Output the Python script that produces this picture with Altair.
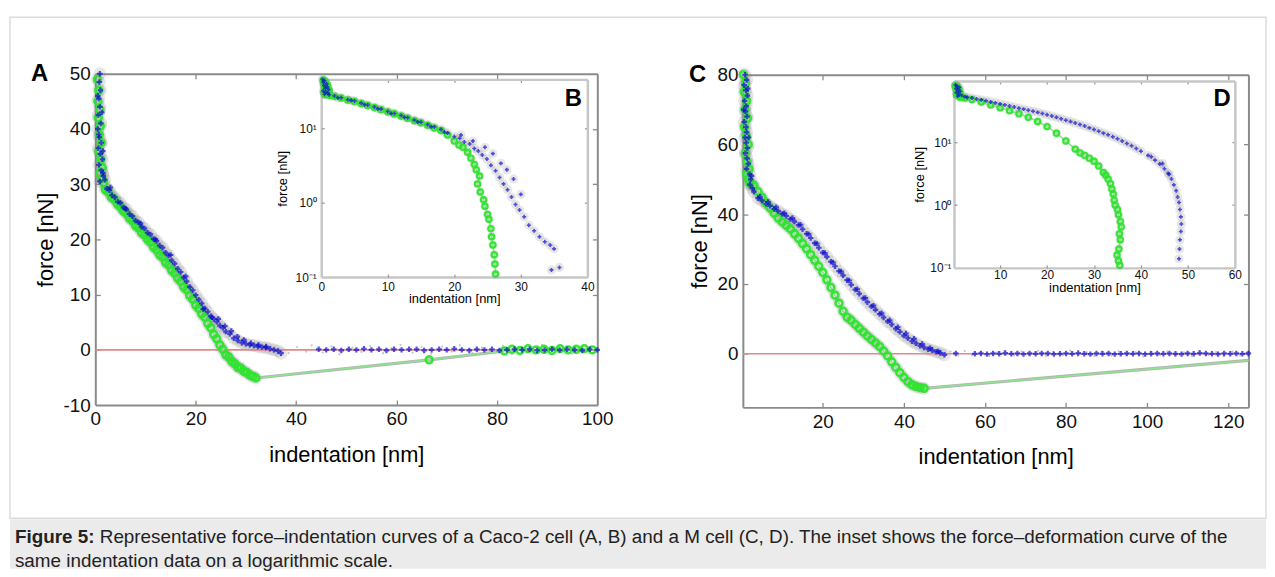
import altair as alt
import pandas as pd

FONT = "Liberation Sans"
W, H = 1266, 505
BLUE = "#0a0ad0"
GREEN = "#2ee52e"
GLINE = "#8fe28f"
HALO = "#858585"
RED = "#e38787"
FRAME = "#8a8a8a"
IFRAME = "#c6c6c6"

# ---------------- Panel A (Caco-2, linear) ----------------
A_BLUE_X = [0.9, 0.8, 1.0, 0.7, 0.9, 0.6, 1.1, 0.5, 0.8, 1.2, 0.6, 1.0, 1.4, 0.7, 1.2, 1.6, 0.9, 1.5, 1.9,
            2.3, 2.8, 3.3, 3.9, 4.5, 5.0, 5.6, 6.2, 6.8, 7.4, 8.0, 8.6, 9.2, 9.8, 10.4, 11.0, 11.6, 12.2, 12.8, 13.4,
            14.0, 14.6, 15.2, 15.8, 16.4, 17.0, 17.6, 18.2, 18.8, 19.4, 20.0, 20.6, 21.2, 21.8, 22.4, 23.0, 23.6, 24.2,
            24.8, 25.4, 26.0, 26.8, 27.6, 28.4, 29.2, 30.0, 30.8, 31.6, 32.4, 33.2, 34.0, 34.8, 35.6, 36.4, 37.0]
A_BLUE_Y = [50, 48.5, 47, 45.5, 44, 42.5, 41, 40, 38.5, 37.5, 36.5, 35.5, 34.5, 33.5, 32.5, 31.5, 30.5, 32, 30.8,
            29.2, 28.9, 28.0, 27.6, 26.8, 26.6, 25.8, 25.4, 24.6, 24.2, 23.4, 23.1, 22.3, 22.0, 21.2, 20.9, 20.1, 19.7,
            18.9, 18.5, 17.6, 17.1, 16.2, 15.6, 14.7, 14.1, 13.1, 12.4, 11.4, 10.8, 9.9, 9.1, 8.4, 7.5, 6.9, 6.1, 5.6,
            5.1, 4.4, 4.0, 3.3, 2.9, 2.1, 1.7, 1.3, 1.1, 0.9, 0.8, 0.6, 0.5, 0.4, 0.2, 0.0, -0.2, -0.6]
A_BLUE2_X = [0.5, 1.3, 0.7, 1.5, 3.0, 6.0, 9.0, 12.0, 15.0, 18.0, 21.5, 23.2, 24.5, 25.8, 27.1, 28.3, 29.6,
             31.0, 32.5, 34.0]
A_BLUE2_Y = [46.0, 43.0, 39.0, 36.0, 29.4, 25.6, 22.9, 20.0, 17.2, 13.3, 7.4, 5.9, 5.6, 4.3, 3.4, 2.4, 1.8,
             1.2, 0.9, 0.6]
A_BASE_X = [44.5, 46.0, 47.5, 49.0, 50.5, 52.0, 53.5, 55.0, 56.5, 58.0, 59.5, 61.0, 62.5, 64.0, 65.5, 67.0, 68.5,
            70.0, 71.5, 73.0, 74.5, 76.0, 77.5, 79.0, 80.5, 82.0, 83.5, 85.0, 86.5, 88.0, 89.5, 91.0, 92.5, 94.0,
            95.5, 97.0, 98.5, 100.0]
A_BASE_Y = [0.1, 0.0, 0.1, -0.1, 0.1, 0.0, 0.2, 0.0, 0.1, -0.1, 0.1, 0.0, 0.1, 0.1, -0.1, 0.0, 0.1, 0.0, 0.2, 0.0,
            -0.1, 0.1, 0.0, 0.1, -0.1, 0.0, 0.1, 0.0, 0.1, -0.1, 0.0, 0.1, 0.0, 0.1, 0.0, -0.1, 0.1, 0.0]
A_GREEN_X = [0.4, 0.7, 0.5, 0.9, 0.6, 1.0, 0.8, 1.2, 0.7, 1.1, 1.4, 0.9, 1.3, 1.7,
             2.0, 2.6, 3.2, 3.8, 4.4, 5.0, 5.6, 6.2, 6.8, 7.4, 8.0, 8.6, 9.2, 9.8, 10.4, 11.0, 11.6, 12.2, 12.8,
             13.4, 14.0, 14.6, 15.2, 15.8, 16.4, 17.0, 17.6, 18.2, 18.8, 19.4, 20.0, 20.6, 21.2, 21.8, 22.4, 23.0,
             23.6, 24.2, 24.8, 25.4, 26.0, 26.6, 27.2, 27.8, 28.4, 29.0, 29.6, 30.2, 30.8, 31.4, 32.0,
             66.5, 81.5, 83.0, 84.6, 86.2, 87.8, 89.4, 91.0, 92.6, 94.2, 95.8, 97.4, 99.0]
A_GREEN_Y = [49, 47, 45, 43.5, 42, 40.5, 39, 37.5, 36, 34.5, 33, 32, 31, 30.2,
             29.0, 28.6, 27.6, 27.3, 26.4, 25.9, 25.1, 24.7, 23.8, 23.4, 22.5, 22.1, 21.2, 20.8, 20.0, 19.5, 18.6,
             18.1, 17.2, 16.8, 15.8, 15.4, 14.4, 13.9, 13.0, 12.4, 11.4, 10.9, 9.8, 9.2, 8.1, 7.5, 6.5, 5.9, 4.8,
             4.0, 2.8, 2.0, 0.9, 0.1, -0.9, -1.3, -2.1, -2.5, -3.2, -3.3, -3.9, -4.1, -4.6, -4.8, -5.1,
             -1.8, -0.2, 0.1, -0.1, 0.2, 0.0, 0.1, -0.1, 0.2, 0.0, 0.1, 0.2, 0.0]
A_RET_X = [32.0, 66.5, 81.5]
A_RET_Y = [-5.1, -1.8, -0.2]
A_NOISE_X = [38.5, 40.2, 42.0, 43.1, 45.3, 47.0, 48.6, 51.2, 53.0, 54.7, 57.3, 59.0, 60.8, 63.2, 65.0, 66.9,
             69.1, 71.0, 72.6, 75.1, 77.0, 78.8, 81.2, 83.0, 84.9, 87.1, 89.0, 90.7, 93.1, 95.0, 96.8, 99.2]
A_NOISE_Y = [-0.6, 0.5, -0.3, 0.8, -0.5, 0.6, -0.8, 0.4, -0.4, 0.7, -0.6, 0.3, 0.9, -0.5, 0.5, -0.7,
             0.6, -0.3, 0.8, -0.6, 0.4, -0.5, 0.7, -0.8, 0.5, -0.4, 0.9, -0.6, 0.4, -0.7, 0.6, -0.5]

# ---------------- Panel B (inset, log) ----------------
B_BLUE_X = [0.2, 0.5, 0.3, 0.8, 0.4, 0.9, 0.6, 1.1, 0.3, 0.7, 1.0, 0.5, 1.2,
            2, 3, 4, 5, 6, 7, 8, 9, 10, 11, 12, 13, 14, 15, 16, 17, 18, 19, 20,
            20.8, 21.5, 22.3, 23, 23.6, 24.2, 24.9, 25.5, 26.2, 26.8, 27.4, 28, 28.6, 29.2, 29.8, 30.5, 31.2, 32,
            32.8, 33.6, 34.4, 35, 34.6, 35.8]
B_BLUE_Y = [46, 44, 42, 40, 38, 36.5, 35, 33.5, 32, 31, 30, 29, 28.5,
            27.5, 26, 24.5, 23.5, 22, 20.8, 19.5, 18.3, 17, 16, 15, 14, 13, 12.2, 11.3, 10.5, 9.7, 8.7, 7.8,
            7.4, 6.6, 6.2, 5.4, 5.0, 4.4, 3.9, 3.2, 2.7, 2.2, 1.8, 1.5, 1.2, 0.95, 0.8, 0.65, 0.5, 0.42,
            0.35, 0.3, 0.27, 0.24, 0.125, 0.135]
B_BLUE2_X = [2.5, 4.5, 6.5, 8.5, 10.5, 12.5, 14.5, 16.5, 18.5, 21.0, 22.8, 24.6, 25.8, 27.0, 27.9, 28.9, 30.0]
B_BLUE2_Y = [26.0, 24.0, 21.0, 18.5, 16.0, 14.2, 12.3, 10.6, 9.0, 8.2, 6.8, 5.6, 4.6, 3.4, 2.8, 2.1, 1.3]
B_GREEN_X = [0.3, 0.6, 0.4, 0.9, 0.5, 1.0, 0.7, 1.2, 0.4, 0.8, 1.1, 0.6, 1.3,
             2, 3, 4, 5, 6, 7, 8, 9, 10, 11, 12, 13, 14, 15, 16, 17,
             18, 19, 20, 20.7, 21.3, 22, 22.5, 23, 23.3, 23.8, 23.5, 23.9, 24.4, 24.6, 25, 25.2, 25.5, 25.6,
             25.8, 26, 26.1, 26.2]
B_GREEN_Y = [45, 43, 41, 39, 37, 35.5, 34, 32.5, 31, 30, 29, 28.5, 28,
             27.2, 25.8, 24.3, 23.2, 21.8, 20.5, 19.2, 18.0, 16.8, 15.8, 14.8, 13.8, 12.8, 12.0, 11.1, 10.2,
             9.4, 8.2, 6.8, 6.0, 5.6, 4.8, 4.0, 3.3, 2.8, 2.3, 1.8, 1.4, 1.1, 0.9, 0.7, 0.6, 0.45, 0.35,
             0.27, 0.2, 0.15, 0.11]

# ---------------- Panel C (M cell, linear) ----------------
C_BLUE_X = [0.8, 1.2, 0.6, 1.0, 1.4, 0.7, 1.1, 0.9, 1.3, 0.6, 1.0, 1.2, 0.8, 1.1, 1.4, 0.9, 1.3, 1.6, 1.2, 1.9,
            2.2, 2.0, 2.6, 3.0,
            4, 5, 6, 7, 8, 9, 10, 11, 12, 13, 14, 15, 16, 17, 18, 19, 20, 21, 22, 23, 24, 25, 26, 27, 28, 29,
            30, 31, 32, 33, 34, 35, 36, 37, 38, 39, 40, 41, 42, 43, 44, 45, 46, 47, 48, 49, 50]
C_BLUE_Y = [80, 78.5, 77, 75.5, 74, 72.5, 71, 69.5, 68, 66.5, 65, 63.5, 62, 60.5, 59, 57.5, 56, 54.5, 53, 51.5,
            50, 48.5, 47.5, 46.5,
            44.6, 43.9, 43.0, 42.4, 41.5, 40.9, 40.1, 39.5, 38.6, 37.9, 36.9, 35.7, 34.4, 33.2, 31.7, 30.4,
            29.0, 27.8, 26.4, 25.1, 23.7, 22.5, 21.1, 19.8, 18.4, 17.2, 15.9, 14.8, 13.6, 12.6, 11.4, 10.4,
            9.3, 8.4, 7.2, 6.3, 5.2, 4.5, 3.6, 3.0, 2.3, 1.8, 1.3, 1.0, 0.6, 0.2, -0.3]
C_BLUE2_X = [1.5, 0.5, 1.7, 2.4, 4.5, 6.5, 8.5, 10.5, 12.5, 14.5, 16.5, 18.5, 20.5, 22.5, 24.5, 26.5, 28.5,
             30.5, 32.5, 34.5, 36.5, 38.5, 40.5, 42.5, 44.5, 46.5, 48.5]
C_BLUE2_Y = [76.0, 70.0, 62.0, 51.0, 45.0, 43.5, 42.0, 40.3, 38.9, 37.0, 34.3, 31.6, 28.9, 26.2, 23.6, 21.0,
             18.5, 16.0, 13.8, 11.6, 9.6, 7.6, 5.8, 4.3, 2.8, 1.6, 0.7]
C_BASE_X = [52.8, 57.5, 59.0, 60.5, 62.0, 63.5, 65.0, 66.5, 68.0, 69.5, 71.0, 72.5, 74.0, 75.5, 77.0, 78.5, 80.0,
            81.5, 83.0, 84.5, 86.0, 87.5, 89.0, 90.5, 92.0, 93.5, 95.0, 96.5, 98.0, 99.5, 101.0, 102.5, 104.0,
            105.5, 107.0, 108.5, 110.0, 111.5, 113.0, 114.5, 116.0, 117.5, 119.0, 120.5, 122.0, 123.5, 125.0]
C_BASE_Y = [0.1, 0.0, 0.1, -0.1, 0.1, 0.0, 0.2, 0.0, 0.1, -0.1, 0.1, 0.0, 0.1, 0.1, -0.1, 0.0, 0.1, 0.0, 0.2,
            0.0, -0.1, 0.1, 0.0, 0.1, -0.1, 0.0, 0.1, 0.0, 0.1, -0.1, 0.0, 0.1, 0.0, 0.1, 0.0, -0.1, 0.1, 0.0,
            0.2, 0.1, 0.0, -0.1, 0.1, 0.0, 0.1, 0.0, 0.1]
C_GREEN_X = [0.4, 0.9, 0.6, 1.2, 0.8, 1.4, 0.7, 1.1, 1.6, 0.9, 1.3, 1.8, 1.2, 1.6, 2.0,
             3, 4, 5, 6, 7, 8, 9, 10, 11, 12, 13, 14, 15, 16, 17, 18, 19, 20, 21, 22, 23, 24, 25, 26, 27, 28,
             29, 30, 31, 32, 33, 34, 35, 36, 37, 38, 39, 40, 41, 42, 43, 44, 45]
C_GREEN_Y = [80, 77.5, 75, 72.5, 70, 67.5, 65, 62.5, 60, 57.5, 55, 53, 51.5, 50, 48.8,
             48.3, 46.5, 44.9, 43.2, 41.8, 40.3, 38.9, 37.8, 36.8, 35.8, 34.4, 33.1, 31.6, 30.1, 28.4, 26.8,
             25.1, 23.3, 21.2, 19.0, 16.8, 14.5, 12.2, 10.5, 9.6, 8.4, 7.3, 6.2, 5.1, 4.1, 3.1, 2.1, 0.8, -0.6,
             -2.3, -3.9, -5.4, -6.8, -8.0, -8.9, -9.4, -9.7, -9.9]
C_RET_X = [45.0, 125.0]
C_RET_Y = [-9.9, -1.9]
C_NOISE_X = [51.5, 53.4, 55.0, 56.8, 58.9, 61.1, 63.0, 64.8, 67.2, 69.0, 70.9, 73.1, 75.0, 76.8, 79.2, 81.0,
             82.9, 85.1, 87.0, 88.8, 91.2, 93.0, 94.9, 97.1, 99.0, 100.8, 103.2, 105.0, 106.9, 109.1, 111.0,
             112.8, 115.2, 117.0, 118.9, 121.1, 123.0, 124.6]
C_NOISE_Y = [0.6, -0.5, 0.8, -0.4, 0.5, -0.7, 0.4, 0.7, -0.5, 0.6, -0.3, 0.8, -0.6, 0.5, -0.4, 0.9, -0.6, 0.4,
             -0.7, 0.6, -0.5, 0.7, -0.3, 0.5, -0.8, 0.6, -0.4, 0.7, -0.5, 0.4, -0.6, 0.8, -0.4, 0.5, -0.7, 0.6,
             -0.5, 0.4]

# ---------------- Panel D (inset, log) ----------------
D_BLUE_X = [0.5, 0.8, 1.3, 0.6, 1.0, 1.5, 0.7, 1.2, 1.8, 1.0,
            2.5, 4, 6, 8, 10, 12, 14, 16, 18, 20, 22, 24, 26, 28, 30, 32, 34, 36, 38, 40,
            41.5, 43, 44, 45, 45.8, 46.5, 47, 47.5, 47.8, 48.1, 48.3, 48.5, 48.6, 48.5, 48.3, 48.2, 48.1]
D_BLUE_Y = [82, 78, 75, 72, 68, 65, 62, 59, 56, 54.5,
            53, 51, 47.5, 44, 41, 38, 35, 32.5, 30, 27.5, 25, 22.5, 20.3, 18.2, 16, 14, 12.3, 10.5, 8.8, 7.2,
            6.2, 5.2, 4.5, 3.8, 3.2, 2.6, 2.1, 1.7, 1.35, 1.1, 0.85, 0.65, 0.5, 0.38, 0.28, 0.2, 0.14]
D_BLUE2_X = [3, 5, 7, 9, 11, 13, 15, 17, 19, 21, 23, 25, 27, 29, 31, 33, 35, 37, 39, 42.2, 44.6, 46.0]
D_BLUE2_Y = [52.0, 49.0, 45.8, 42.5, 39.5, 36.5, 33.8, 31.2, 28.8, 26.2, 23.8, 21.4, 19.2, 17.0, 15.0, 13.2,
             11.4, 9.6, 8.0, 5.9, 4.6, 3.1]
D_GREEN_X = [0.4, 0.9, 0.6, 1.2, 0.8, 1.4, 0.7, 1.1, 1.6,
             2.5, 4, 6, 8, 10, 12, 14, 16, 18, 20, 22, 24, 26, 27, 28, 29, 30, 31, 32,
             32.5, 33, 33.5, 33.8, 34.1, 34.3, 34.5, 35, 35.2, 35.6, 35.8, 35.4, 35.6, 35.3, 34.9, 35.2, 35.5]
D_GREEN_Y = [80, 77, 73, 70, 66, 62, 58, 55, 52,
             51, 48, 44, 39.5, 35.5, 32, 28.5, 25, 21.5, 17.8, 14, 10.5, 7.8, 6.8, 6.2, 5.6, 5.0, 4.2, 3.3,
             3.0, 2.6, 2.2, 1.8, 1.5, 1.2, 1.0, 0.85, 0.7, 0.55, 0.45, 0.35, 0.28, 0.2, 0.16, 0.13, 0.11]

CAP_BOLD = "Figure 5:"
CAP_LINE1 = ("Representative force\u2013indentation curves of a Caco-2 cell (A, B) and a M cell (C, D). "
             "The inset shows the force\u2013deformation curve of the")
CAP_LINE2 = "same indentation data on a logarithmic scale."

LOG_LABELS = "datum.value < 0.5 ? '10\u207b\u00b9' : (datum.value < 5 ? '10\u2070' : '10\u00b9')"


def frame(xs, ys):
    assert len(xs) == len(ys), (len(xs), len(ys))
    return pd.DataFrame({"x": xs, "y": ys, "i": list(range(len(xs)))})


def lin(domain, rng):
    return alt.Scale(domain=domain, range=rng, nice=False, zero=False)


def logs(domain, rng):
    return alt.Scale(type="log", domain=domain, range=rng, nice=False)


def lab_axis(orient, offset, values, title, lsize, tsize, lpad, tpad, dcol, dw, expr="'' + datum.value"):
    return alt.Axis(orient=orient, offset=offset, values=values, title=title, ticks=False,
                    domain=True, domainColor=dcol, domainWidth=dw, grid=False,
                    labelFont=FONT, labelFontSize=lsize, labelColor="#111111", labelPadding=lpad,
                    labelFlush=False, labelOverlap=False, labelExpr=expr,
                    titleFont=FONT, titleFontSize=tsize, titleFontWeight="normal", titleColor="#000000",
                    titlePadding=tpad)


def tick_axis(orient, offset, values, tcol, tsize, dom=False, dcol="#888888", dw=1):
    kw = dict(orient=orient, offset=offset, values=values, title=None, labels=False,
              ticks=True, tickColor=tcol, tickSize=tsize, tickWidth=1.3, grid=False, domain=dom)
    if dom:
        kw["domainColor"] = dcol
        kw["domainWidth"] = dw
    return alt.Axis(**kw)


def XY(xs, ys, xax=None, yax=None):
    return dict(x=alt.X("x:Q", scale=xs, axis=xax), y=alt.Y("y:Q", scale=ys, axis=yax))


def panel(xs, ys, xdom0, ydom0, box, xax, yax, xticks, yticks, fcol, fw, tcol, tsize, layers):
    xl, xr, top, yb = box
    dummy = pd.DataFrame({"x": [xdom0], "y": [ydom0]})
    child0 = alt.Chart(dummy).mark_point(opacity=0).encode(**XY(xs, ys, xax, yax))
    child1 = alt.layer(*layers)
    child2 = alt.Chart(dummy).mark_point(opacity=0).encode(
        **XY(xs, ys, tick_axis("top", -yb, xticks, tcol, tsize),
             tick_axis("right", -(W - xl), yticks, tcol, tsize)))
    child3 = alt.Chart(dummy).mark_point(opacity=0).encode(
        **XY(xs, ys, tick_axis("bottom", -(H - top), xticks, tcol, tsize, True, fcol, fw),
             tick_axis("left", -xr, yticks, tcol, tsize, True, fcol, fw)))
    return [child0, child1, child2, child3]


def data_layers(xs, ys, halo_df, halo_size, blue_df, green_df, green_pts_df, ret_df, noise_df, rule, letter,
                letter_xy, bsize, gsize, gwidth):
    L = []
    L.append(alt.Chart(halo_df).mark_circle(color=HALO, opacity=0.2, size=halo_size).encode(**XY(xs, ys)))
    if noise_df is not None:
        L.append(alt.Chart(noise_df).mark_circle(color="#a0a0a0", opacity=0.6, size=5).encode(**XY(xs, ys)))
    if rule is not None:
        L.append(alt.Chart(pd.DataFrame({"x": [rule[0]], "x2": [rule[1]], "y": [0]})).mark_rule(
            color=RED, strokeWidth=1.6).encode(x=alt.X("x:Q", scale=xs, axis=None), x2="x2:Q",
                                              y=alt.Y("y:Q", scale=ys, axis=None)))
    if ret_df is not None:
        L.append(alt.Chart(ret_df).mark_line(color="#b5b5b5", strokeWidth=3.2).encode(**XY(xs, ys), order="i:Q"))
    L.append(alt.Chart(green_df).mark_line(color=GLINE, strokeWidth=1.6).encode(**XY(xs, ys), order="i:Q"))
    L.append(alt.Chart(green_pts_df).mark_point(shape="circle", filled=False, color=GREEN, strokeWidth=gwidth,
                                                size=gsize, opacity=0.95).encode(**XY(xs, ys)))
    L.append(alt.Chart(blue_df).mark_point(shape="cross", filled=True, color=BLUE, size=bsize).encode(**XY(xs, ys)))
    L.append(alt.Chart(pd.DataFrame({"x": [letter_xy[0]], "y": [letter_xy[1]], "t": [letter]})).mark_text(
        font=FONT, fontSize=24, fontWeight="bold", color="#000000").encode(**XY(xs, ys), text="t:N"))
    return L


# ---------- Panel A ----------
A_box = (86, 592, 57, 391)
A_xs = lin([0, 100], [86, 592])
A_ys = lin([-10, 50], [391, 57])
a_blue = pd.concat([frame(A_BLUE_X, A_BLUE_Y), frame(A_BLUE2_X, A_BLUE2_Y), frame(A_BASE_X, A_BASE_Y)])
a_green = frame(A_GREEN_X, A_GREEN_Y)
a_halo = pd.concat([frame(A_BLUE_X, A_BLUE_Y), frame(A_GREEN_X[:65], A_GREEN_Y[:65])])
A_layers = data_layers(A_xs, A_ys, a_halo, 170, a_blue, a_green, a_green, frame(A_RET_X, A_RET_Y),
                       frame(A_NOISE_X, A_NOISE_Y), (0, 100), "A", (-11.1, 50), 30, 48, 2.6)
A = panel(A_xs, A_ys, 0, 0, A_box,
          lab_axis("bottom", -(H - 391), [0, 20, 40, 60, 80, 100], "indentation [nm]", 19, 22, 5, 16, FRAME, 2),
          lab_axis("left", -86, [-10, 0, 10, 20, 30, 40, 50], "force [nN]", 19, 22, 5, 6, FRAME, 2),
          [20, 40, 60, 80], [0, 10, 20, 30, 40], FRAME, 2, FRAME, 5, A_layers)

# ---------- Panel B ----------
B_box = (313.7, 582, 62.7, 262)
B_xs = lin([0, 40], [313.7, 582])
B_ys = logs([0.1, 46], [262, 62.7])
b_blue = pd.concat([frame(B_BLUE_X, B_BLUE_Y), frame(B_BLUE2_X, B_BLUE2_Y)])
b_green = frame(B_GREEN_X, B_GREEN_Y)
b_halo = pd.concat([b_blue, b_green])
B_layers = data_layers(B_xs, B_ys, b_halo, 85, b_blue, b_green, b_green, None, None, None, "B",
                       (37.9, 25), 16, 28, 2.2)
B = panel(B_xs, B_ys, 1, 1, B_box,
          lab_axis("bottom", -(H - 262), [0, 10, 20, 30, 40], "indentation [nm]", 12, 13, 4, 1, IFRAME, 2.5),
          lab_axis("left", -313.7, [0.1, 1, 10], "force [nN]", 12, 13, 5, 6, IFRAME, 2.5, LOG_LABELS),
          [10, 20, 30], [1, 10], IFRAME, 2.5, "#9a9a9a", 3, B_layers)

# ---------- Panel C ----------
C_box = (738.7, 1248.3, 58, 393.3)
C_xs = lin([0.27, 125], [738.7, 1248.3])
C_ys = lin([-15.36, 80], [393.3, 58])
c_blue = pd.concat([frame(C_BLUE_X, C_BLUE_Y), frame(C_BLUE2_X, C_BLUE2_Y), frame(C_BASE_X, C_BASE_Y)])
c_green_pts = frame(C_GREEN_X, C_GREEN_Y)
c_green = frame(C_GREEN_X + C_RET_X[1:], C_GREEN_Y + C_RET_Y[1:])
c_halo = pd.concat([frame(C_BLUE_X, C_BLUE_Y), c_green_pts])
C_layers = data_layers(C_xs, C_ys, c_halo, 170, c_blue, c_green, c_green_pts, frame(C_RET_X, C_RET_Y),
                       frame(C_NOISE_X, C_NOISE_Y), (0.27, 125), "C", (-10.9, 80), 30, 48, 2.6)
C = panel(C_xs, C_ys, 1, 0, C_box,
          lab_axis("bottom", -(H - 393.3), [20, 40, 60, 80, 100, 120], "indentation [nm]", 19, 22, 5, 16, FRAME, 2),
          lab_axis("left", -738.7, [0, 20, 40, 60, 80], "force [nN]", 19, 22, 5, 6, FRAME, 2),
          [20, 40, 60, 80, 100, 120], [0, 20, 40, 60], FRAME, 2, FRAME, 5, C_layers)

# ---------- Panel D ----------
D_box = (951.5, 1234.6, 64.3, 252.7)
D_xs = lin([0.17, 60], [951.5, 1234.6])
D_ys = logs([0.1, 95], [252.7, 64.3])
d_blue = pd.concat([frame(D_BLUE_X, D_BLUE_Y), frame(D_BLUE2_X, D_BLUE2_Y)])
d_green = frame(D_GREEN_X, D_GREEN_Y)
d_halo = pd.concat([d_blue, d_green])
D_layers = data_layers(D_xs, D_ys, d_halo, 85, d_blue, d_green, d_green, None, None, None, "D",
                       (57.3, 49), 16, 28, 2.2)
D = panel(D_xs, D_ys, 1, 1, D_box,
          lab_axis("bottom", -(H - 252.7), [10, 20, 30, 40, 50, 60], "indentation [nm]", 12, 13, 2, 1, IFRAME, 2.5),
          lab_axis("left", -951.5, [0.1, 1, 10], "force [nN]", 12, 13, 3, 3, IFRAME, 2.5, LOG_LABELS),
          [10, 20, 30, 40, 50], [1, 10], IFRAME, 2.5, "#9a9a9a", 3, D_layers)

top = alt.layer(*(A + B + C + D)).resolve_scale(x="independent", y="independent").properties(
    width=W, height=H, view=alt.ViewBackground(fill="white", stroke="#dcdcdc", strokeWidth=1.5))

cap_style = dict(align="left", baseline="middle", font=FONT, fontSize=19, color="#222222")
cap = alt.layer(
    alt.Chart(pd.DataFrame({"t": [CAP_BOLD]})).mark_text(fontWeight="bold", **cap_style).encode(
        x=alt.value(5), y=alt.value(18), text="t:N"),
    alt.Chart(pd.DataFrame({"t": [CAP_LINE1]})).mark_text(**cap_style).encode(
        x=alt.value(90.5), y=alt.value(18), text="t:N"),
    alt.Chart(pd.DataFrame({"t": [CAP_LINE2]})).mark_text(**cap_style).encode(
        x=alt.value(5), y=alt.value(42), text="t:N"),
).properties(width=W, height=50, view=alt.ViewBackground(fill="#ebebeb", strokeWidth=0))

chart = alt.vconcat(top, cap, spacing=0).properties(
    padding={"left": 1, "top": 6, "right": 0, "bottom": 0}
).configure(font=FONT)

chart.save("out.html", embed_options={"renderer": "svg", "actions": False})
